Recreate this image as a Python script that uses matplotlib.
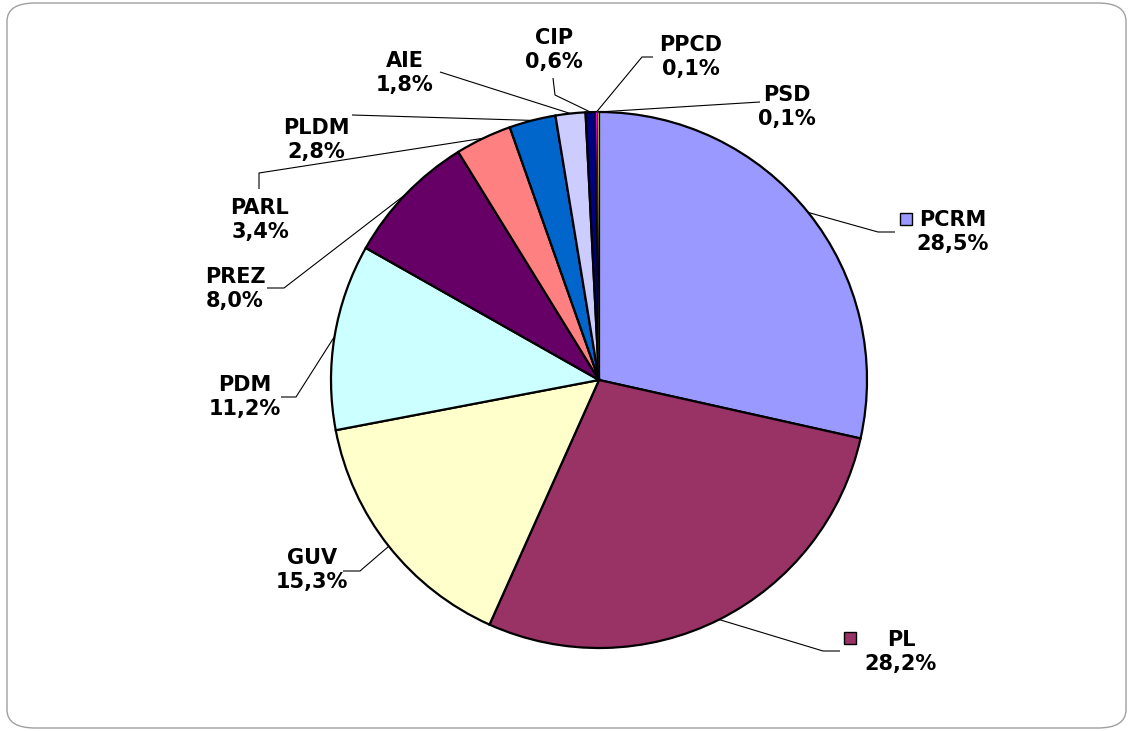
import matplotlib
matplotlib.use("Agg")
import numpy as np
import matplotlib.pyplot as plt
from matplotlib.patches import FancyBboxPatch, Rectangle

# date
parties = ["PCRM", "PL", "GUV", "PDM", "PREZ", "PARL", "PLDM", "AIE", "CIP", "PPCD", "PSD"]
shares = [28.5, 28.2, 15.3, 11.2, 8.0, 3.4, 2.8, 1.8, 0.6, 0.1, 0.1]
colors = ["#9999FF", "#993366", "#FFFFCC", "#CCFFFF", "#660066", "#FF8080",
          "#0066CC", "#CCCCFF", "#000080", "#FF00FF", "#FFFF00"]

# pozitia etichetelor (pixeli) si traseul liniilor de legatura
label_pos = {
    "PCRM": (953, 232), "PL": (901, 652), "GUV": (312, 570), "PDM": (245, 397),
    "PREZ": (235, 289), "PARL": (260, 220), "PLDM": (316, 140), "AIE": (405, 73),
    "CIP": (554, 50), "PPCD": (691, 57), "PSD": (787, 107),
}
leader_path = {
    "PCRM": [(878, 232), (895, 232)], "PL": [(823, 651), (840, 651)],
    "GUV": [(360, 571), (343, 571)], "PDM": [(296, 397), (281, 397)],
    "PREZ": [(284, 288), (267, 288)], "PARL": [(259, 173), (259, 189)],
    "PLDM": [(352, 115)], "AIE": [(440, 72)],
    "CIP": [(555, 95), (553, 78)], "PPCD": [(642, 57), (653, 57)],
    "PSD": [(760, 102)],
}
key_pos = {"PCRM": (906, 219), "PL": (850, 638)}

W, H = 1129, 731
fig = plt.figure(figsize=(W / 100, H / 100), dpi=100)
ax = fig.add_axes([0, 0, 1, 1])

cx, cy, r = 599, 380, 268
wedges, _ = ax.pie(shares, colors=colors, startangle=-90, counterclock=True,
                   radius=r, center=(cx, cy),
                   wedgeprops=dict(edgecolor="black", linewidth=1.6))
# felii foarte mici - contur mai subtire ca sa se vada culoarea
for w in wedges[-2:]:
    w.set_linewidth(0.5)
    w.set_zorder(w.get_zorder() + 1)

ax.set_xlim(0, W)
ax.set_ylim(H, 0)
ax.set_aspect("auto")
ax.axis("off")

for w, name, val in zip(wedges, parties, shares):
    ang = np.deg2rad((w.theta1 + w.theta2) / 2)
    ax_pt = (cx + r * np.cos(ang), cy + r * np.sin(ang))
    pts = [ax_pt] + leader_path[name]
    xs, ys = zip(*pts)
    ax.plot(xs, ys, color="black", lw=0.8, solid_capstyle="butt", zorder=3)
    tx, ty = label_pos[name]
    pct = f"{val:.1f}%".replace(".", ",")
    ax.text(tx, ty, f"{name}\n{pct}", ha="center", va="center", fontsize=15,
            fontweight="bold", linespacing=1.2, family="DejaVu Sans", zorder=4)
    if name in key_pos:
        kx, ky = key_pos[name]
        ax.add_patch(Rectangle((kx - 6, ky - 6), 12, 12, facecolor=w.get_facecolor(),
                               edgecolor="black", lw=1, zorder=4))

# chenar rotunjit
border = FancyBboxPatch((7 / W, 3 / H), 1119 / W, 725 / H,
                        boxstyle="round,pad=0,rounding_size=0.025",
                        transform=fig.transFigure, facecolor="none",
                        edgecolor="#A0A0A0", lw=1.0)
fig.patches.append(border)

fig.savefig("out.png", dpi=100)
